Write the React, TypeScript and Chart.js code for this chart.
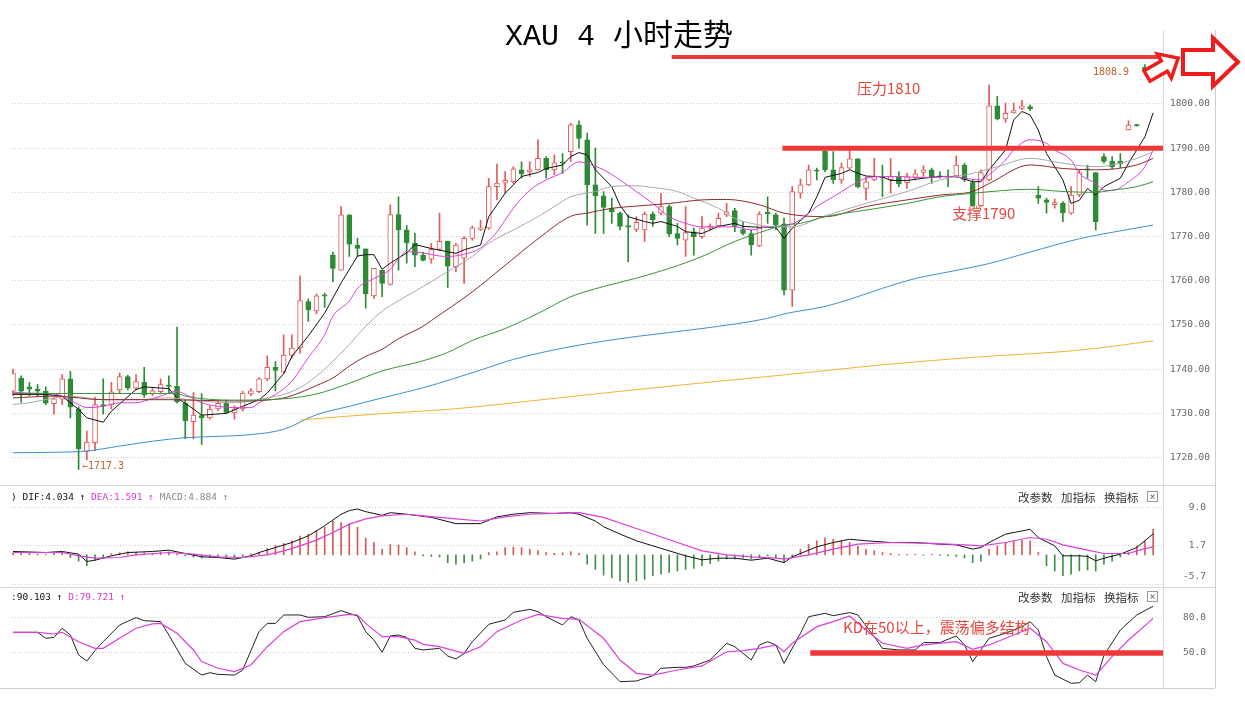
import React, { useEffect, useRef } from "react";
import { Chart, registerables } from "chart.js";
Chart.register(...registerables);

// ---------- candles (4h XAU) ----------
const opens = [1735.0, 1738.0, 1736.0, 1735.5, 1735.0, 1732.2, 1733.2, 1737.8, 1731.0, 1721.4,
  1723.4, 1732.0, 1731.9, 1735.3, 1738.3, 1735.7, 1737.0, 1734.4, 1734.9, 1736.4,
  1736.1, 1732.3, 1728.1, 1729.5, 1729.0, 1731.0, 1732.3, 1730.1, 1731.0, 1734.4,
  1734.9, 1737.8, 1740.4, 1739.3, 1743.1, 1744.8, 1755.3, 1753.2, 1756.8, 1765.8,
  1762.4, 1774.9, 1768.1, 1767.2, 1756.6, 1762.4, 1759.2, 1775.0, 1771.5, 1768.5,
  1765.8, 1764.9, 1767.1, 1769.0, 1763.2, 1765.1, 1769.6, 1771.6, 1771.9, 1781.3,
  1782.1, 1782.4, 1785.1, 1784.6, 1785.1, 1787.7, 1785.1, 1786.8, 1789.2, 1795.3,
  1791.9, 1781.7, 1779.2, 1776.4, 1775.3, 1772.5, 1771.6, 1771.5, 1775.1, 1775.3,
  1776.8, 1770.7, 1769.2, 1771.1, 1770.0, 1771.9, 1772.4, 1774.9, 1775.9, 1771.6,
  1770.7, 1767.9, 1775.5, 1774.9, 1772.9, 1757.9, 1779.8, 1781.7, 1785.0, 1789.4,
  1785.1, 1782.8, 1785.5, 1787.6, 1780.9, 1782.8, 1783.6, 1782.9, 1783.5, 1782.2,
  1783.4, 1784.5, 1785.1, 1783.6, 1783.6, 1783.7, 1786.2, 1782.2, 1777.0, 1782.8,
  1799.6, 1796.6, 1798.0, 1799.0, 1799.4, 1779.4, 1778.3, 1777.2, 1777.5, 1775.3,
  1779.4, 1785.3, 1784.5, 1788.1, 1787.0, 1787.0, 1794.1, 1795.2, 1808.3, 1808.0];
const highs = [1740.0, 1738.5, 1737.0, 1736.5, 1736.0, 1733.6, 1738.8, 1739.5, 1731.5, 1726.0,
  1733.7, 1737.8, 1737.0, 1739.1, 1738.6, 1738.8, 1740.4, 1735.6, 1737.8, 1738.5,
  1749.5, 1733.0, 1734.7, 1734.5, 1731.7, 1732.8, 1733.0, 1731.7, 1735.0, 1735.6,
  1738.1, 1743.0, 1741.7, 1747.8, 1747.8, 1761.1, 1755.9, 1757.0, 1757.2, 1766.5,
  1776.8, 1774.9, 1769.6, 1767.2, 1762.8, 1762.4, 1777.2, 1779.0, 1772.5, 1770.8,
  1766.5, 1768.5, 1775.3, 1769.0, 1768.5, 1770.0, 1772.4, 1773.7, 1783.2, 1786.4,
  1784.7, 1785.8, 1786.9, 1786.9, 1791.9, 1788.1, 1788.5, 1788.8, 1795.6, 1796.2,
  1793.4, 1790.0, 1780.2, 1778.7, 1775.6, 1774.9, 1774.5, 1775.6, 1775.6, 1779.8,
  1777.2, 1773.0, 1776.8, 1771.9, 1774.5, 1772.9, 1775.3, 1777.5, 1776.4, 1773.4,
  1771.5, 1775.6, 1779.0, 1775.3, 1774.2, 1781.3, 1783.0, 1786.2, 1785.5, 1789.4,
  1789.2, 1786.6, 1789.8, 1787.7, 1783.5, 1787.7, 1786.2, 1787.7, 1784.7, 1784.3,
  1785.1, 1786.0, 1785.5, 1784.7, 1785.1, 1788.2, 1786.6, 1782.8, 1785.1, 1804.3,
  1801.7, 1800.2, 1800.2, 1800.8, 1799.8, 1781.3, 1778.7, 1778.5, 1777.9, 1781.3,
  1785.0, 1786.2, 1784.5, 1788.8, 1788.1, 1788.8, 1796.2, 1795.4, 1808.9, 1808.6];
const lows = [1734.0, 1732.5, 1734.0, 1734.0, 1732.0, 1729.8, 1732.0, 1729.0, 1717.3, 1719.5,
  1721.5, 1729.8, 1731.0, 1734.7, 1735.3, 1735.3, 1733.6, 1734.0, 1734.4, 1734.7,
  1732.3, 1724.3, 1724.2, 1723.0, 1728.7, 1730.6, 1730.0, 1728.7, 1730.5, 1734.0,
  1734.7, 1737.4, 1735.1, 1739.1, 1742.5, 1743.6, 1750.8, 1752.5, 1754.0, 1759.8,
  1762.4, 1765.5, 1765.5, 1753.8, 1756.0, 1756.4, 1759.0, 1762.4, 1764.0, 1763.2,
  1764.5, 1764.0, 1766.8, 1758.5, 1762.0, 1759.4, 1769.2, 1771.4, 1771.6, 1778.3,
  1779.8, 1782.0, 1783.2, 1783.6, 1785.0, 1783.2, 1784.0, 1784.3, 1787.0, 1790.0,
  1772.6, 1770.7, 1770.7, 1773.0, 1771.5, 1764.3, 1771.1, 1768.9, 1772.3, 1774.9,
  1770.0, 1768.1, 1765.5, 1765.8, 1769.6, 1771.5, 1772.2, 1774.5, 1771.1, 1770.4,
  1765.8, 1767.7, 1773.0, 1771.5, 1756.8, 1754.2, 1778.7, 1781.5, 1782.8, 1784.7,
  1782.0, 1782.0, 1785.3, 1781.0, 1778.3, 1782.6, 1779.0, 1779.8, 1781.3, 1780.9,
  1782.8, 1783.6, 1782.0, 1783.2, 1781.3, 1783.5, 1782.4, 1776.8, 1776.8, 1782.6,
  1796.4, 1795.8, 1797.9, 1798.7, 1798.5, 1777.5, 1775.3, 1776.4, 1773.4, 1775.0,
  1779.0, 1783.2, 1771.5, 1786.6, 1785.3, 1785.6, 1794.1, 1795.0, 1806.8, 1806.0];
const closes = [1739.0, 1735.0, 1735.5, 1735.0, 1732.3, 1733.3, 1737.8, 1731.4, 1722.0, 1723.5,
  1732.0, 1731.7, 1734.9, 1738.3, 1735.7, 1737.2, 1734.2, 1735.1, 1736.5, 1736.1,
  1732.6, 1728.3, 1729.6, 1729.0, 1731.0, 1732.3, 1730.2, 1731.0, 1734.6, 1735.1,
  1737.8, 1740.4, 1739.7, 1743.2, 1744.8, 1755.5, 1753.4, 1756.6, 1756.5, 1762.8,
  1774.9, 1768.3, 1767.3, 1757.0, 1762.8, 1759.4, 1775.0, 1771.5, 1768.6, 1765.8,
  1764.6, 1767.1, 1768.9, 1763.3, 1768.1, 1769.6, 1772.0, 1772.0, 1781.3, 1782.1,
  1782.7, 1785.3, 1784.2, 1785.1, 1787.7, 1785.1, 1786.7, 1786.6, 1795.3, 1792.2,
  1781.7, 1779.2, 1776.6, 1775.6, 1772.3, 1772.1, 1773.2, 1775.1, 1773.8, 1776.8,
  1770.6, 1769.6, 1770.9, 1770.0, 1771.9, 1772.4, 1774.1, 1775.6, 1772.3, 1770.7,
  1768.1, 1775.1, 1775.1, 1772.6, 1757.9, 1780.2, 1781.7, 1785.1, 1784.8, 1785.1,
  1782.8, 1785.6, 1787.6, 1781.3, 1782.4, 1783.7, 1783.4, 1783.6, 1781.9, 1783.5,
  1784.2, 1785.1, 1783.4, 1783.5, 1783.4, 1786.2, 1782.8, 1777.0, 1784.5, 1799.6,
  1796.6, 1797.9, 1798.5, 1799.6, 1798.9, 1778.7, 1777.7, 1777.7, 1775.4, 1779.4,
  1784.5, 1785.1, 1773.4, 1787.0, 1785.8, 1786.5, 1795.2, 1795.1, 1807.6, 1807.5];

// ---------- moving averages as [candle index, price] ----------
const ma5 = [[0,1734.3],[4,1734.3],[6,1733.9],[8,1730.9],[9,1729.0],[11,1728.0],[12,1730.5],[15,1735.4],[16,1736.0],[19,1735.6],[20,1733.5],[22,1731.0],[23,1729.6],[26,1730.0],[28,1731.6],[30,1733.1],[31,1734.6],[33,1739.0],[34,1742.9],[36,1747.5],[38,1752.7],[40,1759.5],[42,1765.6],[43,1765.9],[44,1765.9],[45,1762.6],[46,1764.0],[48,1766.3],[49,1768.2],[51,1767.3],[54,1766.2],[55,1767.0],[57,1768.1],[58,1774.5],[60,1779.8],[62,1783.6],[64,1784.5],[65,1785.4],[67,1786.2],[68,1788.1],[69,1789.0],[70,1788.5],[71,1785.1],[73,1781.3],[74,1777.1],[75,1774.5],[77,1773.4],[78,1773.0],[79,1773.4],[81,1772.3],[82,1771.1],[84,1770.7],[86,1772.3],[88,1773.0],[89,1772.3],[91,1772.1],[93,1772.1],[94,1769.6],[95,1771.9],[97,1775.3],[98,1779.0],[99,1783.4],[101,1784.3],[102,1785.1],[103,1784.3],[104,1783.7],[106,1783.5],[107,1782.7],[109,1782.7],[111,1783.2],[113,1783.6],[115,1783.6],[117,1782.4],[118,1782.4],[119,1785.1],[121,1789.6],[122,1796.4],[123,1798.3],[124,1797.5],[125,1794.1],[126,1788.8],[128,1782.8],[129,1777.5],[130,1778.2],[131,1780.9],[132,1779.4],[133,1781.3],[135,1783.2],[136,1786.6],[138,1792.6],[139,1798.0]];
const ma10 = [[0,1734.8],[2,1734.6],[5,1734.4],[6,1733.9],[8,1732.0],[9,1731.3],[11,1731.6],[13,1732.4],[15,1732.4],[16,1732.8],[18,1733.9],[20,1735.0],[21,1734.3],[23,1732.4],[25,1731.6],[27,1731.3],[29,1731.3],[30,1732.4],[32,1734.3],[34,1737.3],[36,1742.6],[38,1747.8],[39,1752.0],[41,1755.4],[42,1758.3],[44,1760.5],[46,1762.6],[47,1765.0],[48,1766.6],[50,1766.3],[52,1765.6],[53,1765.5],[55,1766.0],[57,1767.4],[59,1771.1],[61,1776.4],[63,1780.5],[65,1782.8],[67,1784.5],[69,1786.9],[70,1786.5],[72,1785.1],[74,1782.8],[76,1780.2],[78,1777.5],[80,1774.5],[82,1773.0],[84,1772.2],[86,1772.2],[88,1772.2],[90,1771.5],[92,1772.2],[94,1772.4],[96,1773.8],[98,1776.8],[100,1779.0],[102,1781.3],[104,1783.2],[106,1783.6],[108,1783.6],[110,1783.4],[112,1783.4],[114,1783.6],[116,1783.2],[118,1782.8],[119,1784.0],[121,1787.3],[122,1789.6],[124,1791.9],[126,1791.1],[127,1789.6],[129,1787.3],[130,1784.3],[132,1782.0],[133,1780.5],[134,1780.4],[136,1782.4],[138,1785.8],[139,1789.6]];
const ma20 = [[0,1732.0],[2,1732.4],[5,1733.5],[7,1733.9],[11,1733.1],[15,1733.1],[19,1733.5],[23,1732.8],[27,1732.4],[31,1733.5],[33,1734.3],[35,1735.8],[37,1738.4],[39,1741.8],[41,1745.6],[43,1749.7],[45,1753.1],[47,1755.5],[50,1758.7],[53,1762.1],[56,1765.5],[58,1768.5],[61,1771.5],[64,1774.5],[66,1776.8],[68,1779.0],[71,1780.2],[73,1781.3],[76,1781.5],[78,1781.1],[81,1780.2],[83,1778.7],[86,1776.4],[88,1774.1],[90,1773.0],[93,1772.2],[95,1772.2],[99,1774.7],[104,1777.5],[109,1780.2],[113,1782.8],[117,1784.3],[120,1785.8],[124,1787.7],[128,1786.6],[132,1785.8],[134,1786.2],[137,1787.7],[139,1789.2]];
const ma30 = [[0,1733.5],[5,1733.9],[11,1733.1],[19,1733.1],[27,1732.8],[33,1733.5],[35,1734.7],[37,1736.3],[39,1738.0],[41,1740.7],[43,1742.9],[45,1744.5],[47,1746.9],[50,1749.7],[51,1751.0],[56,1757.5],[60,1763.5],[64,1769.5],[68,1774.6],[70,1775.3],[73,1776.4],[76,1776.9],[80,1777.5],[84,1778.3],[87,1778.4],[91,1777.2],[94,1775.3],[99,1774.5],[104,1776.8],[109,1778.3],[113,1779.4],[117,1780.2],[119,1782.0],[124,1786.2],[128,1785.4],[132,1785.1],[137,1786.2],[139,1787.7]];
const ma60 = [[0,1734.5],[11,1734.5],[20,1734.5],[21,1733.9],[27,1733.0],[33,1733.3],[37,1734.4],[41,1736.8],[45,1739.6],[50,1741.9],[53,1743.8],[56,1746.5],[60,1749.2],[64,1752.6],[68,1756.4],[72,1758.7],[76,1760.6],[80,1762.8],[84,1765.5],[88,1768.9],[92,1771.5],[94,1772.6],[96,1773.0],[99,1774.5],[104,1776.0],[109,1777.5],[113,1779.0],[117,1779.8],[124,1780.7],[128,1780.2],[132,1780.0],[134,1780.5],[137,1781.3],[139,1782.4]];
const ma120 = [[0,1721.1],[5,1721.2],[9,1721.5],[13,1722.6],[17,1723.7],[21,1724.5],[25,1724.8],[29,1725.2],[33,1726.4],[37,1729.7],[41,1731.6],[45,1733.5],[50,1735.8],[57,1739.8],[61,1742.2],[68,1745.1],[76,1747.4],[84,1749.2],[92,1751.5],[94,1752.5],[99,1754.2],[102,1755.8],[106,1758.3],[110,1760.5],[114,1762.0],[119,1763.9],[124,1766.5],[130,1769.5],[135,1771.3],[139,1772.6]];
const ma250 = [[35,1728.5],[41,1729.4],[47,1730.2],[53,1730.9],[65,1733.2],[72,1734.6],[84,1736.9],[94,1738.7],[106,1741.0],[118,1742.8],[130,1744.3],[139,1746.4]];

// ---------- MACD ----------
const difLine = [[0,0.64],[4,0.45],[6,0.64],[8,0.13],[9,-1.28],[10,-1.03],[12,-0.19],[14,0.45],[17,0.64],[19,0.9],[21,0.26],[23,-0.38],[25,-0.51],[27,-0.83],[29,-0.19],[30,0.45],[32,1.41],[34,2.37],[36,3.65],[37,4.6],[38,5.6],[40,7.8],[41,8.5],[42,8.8],[43,8.3],[45,7.6],[46,8.1],[48,7.8],[51,7.2],[54,6.0],[57,6.0],[59,7.3],[61,7.8],[63,8.1],[66,7.95],[68,8.1],[69,7.8],[71,6.5],[72,5.4],[74,4.0],[76,2.7],[78,1.73],[80,0.77],[82,-0.19],[84,-0.96],[86,-0.64],[88,-0.64],[90,-1.03],[92,-0.64],[94,-1.5],[95,-0.38],[98,1.54],[100,2.37],[102,3.0],[104,2.7],[107,2.37],[110,2.37],[113,2.05],[115,1.92],[117,1.1],[118,1.41],[119,2.37],[121,3.97],[124,4.9],[125,3.3],[127,1.73],[128,-0.19],[130,-0.19],[131,-0.3],[132,-1.15],[133,-0.64],[135,0.13],[137,1.41],[139,4.03]];
const deaLine = [[0,0.45],[6,0.45],[8,-0.19],[10,-0.64],[13,-0.51],[15,0],[19,0.45],[22,0.13],[25,-0.38],[28,-0.51],[31,0],[33,0.77],[35,1.73],[37,2.82],[39,4.3],[41,5.9],[43,6.9],[45,7.5],[48,7.8],[50,7.5],[54,6.9],[57,6.5],[60,7.3],[63,7.8],[67,8.0],[69,8.1],[72,7.2],[75,5.6],[78,4.0],[81,2.37],[84,0.77],[87,0],[90,-0.38],[93,-0.64],[94,-0.83],[97,0],[100,1.1],[103,2.05],[107,2.37],[112,2.2],[116,1.92],[118,1.73],[121,2.37],[124,3.33],[126,3.0],[128,1.92],[131,0.9],[133,0.26],[136,0.26],[137,0.77],[139,1.59]];
const macdHist = [0.3, 0.3, 0.3, 0.2, 0.1, 0.3, 0.4, -0.5, -1.2, -2.1,
  -1.0, -0.6, 0.2, 0.4, 0.6, 0.5, 0.4, 0.3, 0.5, 0.6,
  0.2, -0.2, -0.4, -0.6, -0.5, -0.4, -0.6, -0.6, -0.3, 0.2,
  0.5, 1.2, 1.8, 2.2, 2.7, 3.6, 4.0, 4.7, 5.3, 6.5,
  6.2, 5.9, 5.3, 3.2, 2.4, 1.1, 2.0, 1.9, 1.4, 0.6,
  -0.2, -0.3, -0.4, -1.5, -1.8, -1.5, -1.2, -0.8, 0.45, 0.6,
  1.4, 1.5, 1.4, 1.1, 0.8, 0.45, 0.3, 0.4, 0.6, 0.3,
  -1.8, -2.8, -3.9, -4.4, -5.0, -5.3, -5.0, -4.7, -4.0, -3.7,
  -3.4, -3.1, -2.8, -2.6, -2.1, -1.7, -1.2, -0.8, -0.8, -0.6,
  -0.8, -0.5, -0.2, -0.6, -1.5, -0.4, 1.1, 2.0, 2.7, 3.2,
  3.0, 2.7, 2.4, 1.7, 1.1, 0.8, 0.45, 0.26, 0.1, 0.1,
  0.1, -0.1, 0.1, -0.1, -0.2, -0.3, -0.6, -1.5, -1.2, 1.1,
  1.7, 2.4, 2.7, 2.8, 2.7, 0.45, -2.1, -3.1, -4.0, -3.7,
  -3.1, -2.9, -3.1, -1.8, -1.2, -0.4, 0.45, 1.7, 2.7, 4.88];

// ---------- KD ----------
const kLine = [[0,67.7],[3,67.7],[4,62.6],[5,63.4],[6,71.2],[7,65.4],[8,48.3],[9,43.1],[10,52],[11,59.7],[13,74],[15,80.3],[16,77.7],[18,76.9],[19,65.4],[21,41.1],[23,31.1],[24,33.1],[25,31.7],[27,31.1],[28,35.4],[30,68.3],[31,75.4],[32,75.4],[33,82.6],[35,82.6],[36,80.6],[38,81.1],[40,86.3],[42,81.7],[43,68.3],[44,61.1],[45,50.6],[46,64.6],[47,65.4],[48,63.4],[49,54],[50,52.6],[52,54],[53,47.4],[54,44.9],[55,49.7],[56,59.7],[58,74.6],[60,78.3],[61,84.9],[63,87.4],[64,85.4],[65,81.1],[67,74],[68,81.1],[69,78.3],[70,62.6],[72,40],[74,25.4],[76,26],[78,30.6],[79,36.9],[81,37.7],[82,37.7],[83,38.9],[85,44],[87,58.3],[88,55.4],[90,44],[91,56.9],[92,59.7],[93,56.9],[94,41.1],[96,66.9],[97,81.1],[99,84],[100,82],[102,84.6],[103,82.6],[105,64],[106,54],[108,52.6],[110,52.6],[111,58.9],[113,58.9],[115,64.6],[116,56.9],[117,42.6],[119,62.6],[121,66.9],[123,72.6],[124,76.9],[125,69.7],[126,46.9],[127,31.1],[129,24],[130,24.5],[131,31.1],[132,25.4],[133,48],[135,69.7],[137,82.6],[139,90.1]];
const dLine = [[0,67.7],[3,67.7],[5,66.3],[6,67.7],[8,59.7],[10,54],[11,54],[13,62.6],[15,71.2],[17,74.9],[18,75.4],[20,66.9],[22,52.6],[23,42.6],[25,36.9],[27,34],[29,39.7],[31,55.4],[33,68.3],[35,76.9],[38,80.3],[41,83.1],[42,82.6],[43,75.4],[45,64],[47,64],[49,61.1],[50,57.4],[52,55.4],[55,49.7],[57,55.4],[59,68.3],[62,78.3],[64,83.1],[67,79.7],[69,78.9],[72,62.6],[74,44],[76,32.6],[78,31.1],[81,35.4],[84,38.9],[87,51.1],[89,52],[91,54],[93,56.9],[94,51.1],[95,58.3],[98,72.6],[100,76.9],[102,81.7],[104,69.7],[106,58.3],[109,54],[111,56.9],[115,59.7],[117,53.1],[119,56.9],[122,65.4],[124,71.2],[126,59.7],[128,41.1],[130,35.4],[132,31.1],[134,46.9],[136,61.1],[139,79.7]];

// ---------- axis ticks / levels ----------
const priceTicks = [1720, 1730, 1740, 1750, 1760, 1770, 1780, 1790, 1800];
const macdTicks = [-5.7, 1.7, 9.0];
const kdTicks = [50, 80];
const resistanceLevel = 1810.6;
const supportLevel = 1790;
const kdLevel = 50;

// ---------- styling ----------
const W = 1245;
const X_MIN = -0.12;
const X_MAX = 140.2;
const UP = "#e05a5a";
const DOWN = "#2e8b35";
const LEVEL_RED = "#f03838";
const MONO = '"DejaVu Sans Mono", "Liberation Mono", monospace';
const CJK = '"Noto Sans CJK SC", "Noto Sans", sans-serif';

const toPts = (arr: number[][]) => arr.map(([x, y]) => ({ x, y }));
const idx = opens.map((_, i) => i);
const isUp = (i: number) => closes[i] > opens[i];

function lineDs(label: string, arr: number[][], color: string, width = 1, smooth = true) {
  return {
    type: "line", label, data: toPts(arr), borderColor: color, borderWidth: width,
    pointRadius: 0, fill: false, tension: 0,
    cubicInterpolationMode: smooth ? "monotone" : "default", order: 0,
  };
}

const xScale = { type: "linear", min: X_MIN, max: X_MAX, display: false, offset: false, grid: { offset: false } };

function yScale(min: number, max: number, ticks: number[]) {
  return {
    type: "linear", position: "right", min, max,
    afterFit: (s: any) => { s.width = 82; },
    afterBuildTicks: (s: any) => { s.ticks = ticks.map((v) => ({ value: v })); },
    ticks: { display: false },
    grid: { color: "#cdcdcd", drawTicks: false, lineWidth: 1 },
    border: { display: false, dash: [1, 2] },
  };
}

function labelPlugin(id: string, ticks: number[], fmt: (v: number) => string, align: "left" | "right", x: number) {
  return {
    id,
    afterDraw(chart: any) {
      const { ctx, chartArea, scales } = chart;
      ctx.save();
      ctx.font = `9.5px ${MONO}`;
      ctx.fillStyle = "#666";
      ctx.textAlign = align;
      ctx.textBaseline = "middle";
      for (const v of ticks) {
        let y = scales.y.getPixelForValue(v);
        y = Math.min(Math.max(y, chartArea.top + 6), chartArea.bottom - 10);
        ctx.fillText(fmt(v), x, y);
      }
      ctx.restore();
    },
  };
}

function levelPlugin(id: string, lines: { v: number; from: number; w: number; endPad: number }[]) {
  return {
    id,
    afterDatasetsDraw(chart: any) {
      const { ctx, chartArea, scales } = chart;
      ctx.save();
      ctx.strokeStyle = LEVEL_RED;
      for (const l of lines) {
        const y = scales.y.getPixelForValue(l.v);
        const x0 = scales.x.getPixelForValue(l.from);
        ctx.lineWidth = l.w;
        ctx.beginPath();
        ctx.moveTo(x0, y);
        ctx.lineTo(chartArea.right - l.endPad, y);
        ctx.stroke();
      }
      ctx.restore();
    },
  };
}

const baseOptions = (padTop: number, y: any) => ({
  responsive: false,
  animation: false,
  events: [],
  layout: { padding: { left: 12, right: 0, top: padTop, bottom: 0 } },
  plugins: { legend: { display: false }, tooltip: { enabled: false } },
  scales: { x: xScale, y },
});

function mainConfig(): any {
  return {
    type: "bar",
    data: {
      datasets: [
        lineDs("MA250", ma250, "#f2b134"),
        lineDs("MA120", ma120, "#3b8fd4"),
        lineDs("MA60", ma60, "#3a953a"),
        lineDs("MA30", ma30, "#8e2b2b"),
        lineDs("MA20", ma20, "#a9a9a9"),
        lineDs("MA10", ma10, "#dc3fdc"),
        lineDs("MA5", ma5, "#111111", 1, false),
        {
          type: "bar", label: "wick", order: 3, grouped: false, barThickness: 1,
          data: idx.map((i) => ({ x: i, y: [lows[i], highs[i]] })),
          backgroundColor: idx.map((i) => (isUp(i) ? UP : DOWN)),
        },
        {
          type: "bar", label: "body", order: 2, grouped: false, barThickness: 5, minBarLength: 1,
          borderSkipped: false, borderWidth: 1,
          data: idx.map((i) => ({ x: i, y: [opens[i], closes[i]] })),
          backgroundColor: idx.map((i) => (isUp(i) ? "#ffffff" : DOWN)),
          borderColor: idx.map((i) => (isUp(i) ? UP : DOWN)),
        },
      ],
    },
    options: baseOptions(46.5, yScale(1713.8, 1813.0, priceTicks)),
    plugins: [
      labelPlugin("priceLabels", priceTicks, (v) => v.toFixed(2), "left", 1170),
      levelPlugin("priceLevels", [
        { v: resistanceLevel, from: 80.3, w: 4, endPad: 3 },
        { v: supportLevel, from: 93.8, w: 5, endPad: 0 },
      ]),
    ],
  };
}

function macdConfig(): any {
  return {
    type: "bar",
    data: {
      datasets: [
        lineDs("DEA", deaLine, "#dc3fdc", 1.2, false),
        lineDs("DIF", difLine, "#111111", 1, false),
        {
          type: "bar", label: "MACD", order: 2, grouped: false, barThickness: 1,
          data: idx.map((i) => ({ x: i, y: macdHist[i] })),
          backgroundColor: macdHist.map((v) => (v >= 0 ? "#d45a5a" : "#3f8f45")),
        },
      ],
    },
    options: baseOptions(0, yScale(-6.177, 13.418, macdTicks)),
    plugins: [labelPlugin("macdLabels", macdTicks, (v) => v.toFixed(1), "right", 1206)],
  };
}

function kdConfig(): any {
  return {
    type: "line",
    data: {
      datasets: [
        lineDs("D", dLine, "#dc3fdc", 1.2, false),
        lineDs("K", kLine, "#222222", 1, false),
      ],
    },
    options: baseOptions(0, yScale(20.0, 106.57, kdTicks)),
    plugins: [
      labelPlugin("kdLabels", kdTicks, (v) => v.toFixed(1), "right", 1206),
      levelPlugin("kdLevel", [{ v: kdLevel, from: 97.2, w: 5.5, endPad: 0 }]),
    ],
  };
}

function Panel({ top, height, config }: { top: number; height: number; config: () => any }) {
  const ref = useRef<HTMLCanvasElement | null>(null);
  useEffect(() => {
    const chart = new Chart(ref.current as HTMLCanvasElement, config());
    return () => chart.destroy();
  }, []);
  return (
    <canvas ref={ref} width={W} height={height}
      style={{ position: "absolute", left: 0, top, width: W, height, display: "block" }} />
  );
}

const abs = (left: number, top: number, extra: any = {}) => ({
  position: "absolute" as const, left, top, whiteSpace: "nowrap" as const, ...extra,
});

function Tools({ top }: { top: number }) {
  const st = { fontFamily: CJK, fontSize: 11.5, lineHeight: "14px", color: "#333" };
  return (
    <>
      <div style={abs(1018, top, st)}>改参数</div>
      <div style={abs(1061, top, st)}>加指标</div>
      <div style={abs(1104, top, st)}>换指标</div>
      <div style={abs(1147, top + 1, {
        width: 11, height: 11, border: "1px solid #999", boxSizing: "border-box",
        fontFamily: MONO, fontSize: 10, lineHeight: "9px", textAlign: "center", color: "#666",
      })}>×</div>
    </>
  );
}

export default function App() {
  const hl = (top: number, left = 0, width = 1215, color = "#d9d9d9") => (
    <div style={{ position: "absolute", left, top, width, height: 1, background: color }} />
  );
  const vl = (left: number, top: number, height: number, color = "#d9d9d9") => (
    <div style={{ position: "absolute", left, top, width: 1, height, background: color }} />
  );
  const legendFont = { fontFamily: MONO, fontSize: 9.5, lineHeight: "12px" };
  const noteStyle = { fontFamily: CJK, fontSize: 15, lineHeight: "18px", color: "#e8463c" };
  return (
    <div style={{ position: "absolute", left: 0, top: 0, width: W, height: 704, background: "#fff", overflow: "hidden" }}>
      <Panel top={0} height={485} config={mainConfig} />
      <Panel top={485} height={102} config={macdConfig} />
      <Panel top={587} height={101} config={kdConfig} />

      {hl(485)}
      {hl(587)}
      {hl(688, 0, 1215, "#cfcfcf")}
      {vl(1163, 30, 658)}
      {vl(1215, 30, 658, "#cfcfcf")}

      <div style={abs(505, 18, { fontFamily: '"Liberation Mono", "Noto Sans CJK SC", monospace', fontSize: 30, lineHeight: "38px", color: "#000" })}>
        XAU 4 小时走势
      </div>

      <div style={abs(857, 79, noteStyle)}>压力1810</div>
      <div style={abs(952, 204, noteStyle)}>支撑1790</div>
      <div style={abs(843, 618, noteStyle)}>KD在50以上，震荡偏多结构</div>

      <div style={abs(82, 459, { fontFamily: MONO, fontSize: 10, lineHeight: "13px", color: "#c0622a" })}>←1717.3</div>
      <div style={abs(1093, 65, { fontFamily: MONO, fontSize: 10, lineHeight: "13px", color: "#c0622a" })}>1808.9</div>

      <div style={abs(11, 491, legendFont)}>
        <span style={{ color: "#111" }}>) DIF:4.034 ↑ </span>
        <span style={{ color: "#d63ad6" }}>DEA:1.591 ↑ </span>
        <span style={{ color: "#888" }}>MACD:4.884 ↑</span>
      </div>
      <div style={abs(11, 591, legendFont)}>
        <span style={{ color: "#111" }}>:90.103 ↑ </span>
        <span style={{ color: "#d63ad6" }}>D:79.721 ↑</span>
      </div>
      <Tools top={490} />
      <Tools top={590} />

      <svg width={W} height={704} style={{ position: "absolute", left: 0, top: 0, pointerEvents: "none" }}>
        <g transform="translate(1147,76) rotate(-30)">
          <polygon points="0,-6 20,-6 20,-14 36,0 20,14 20,6 0,6" fill="#fff" stroke="#f01c1c" strokeWidth={3.5} strokeLinejoin="miter" />
        </g>
        <polygon points="1183,50 1213,50 1213,38 1238,62 1213,86 1213,74 1183,74" fill="#fff" stroke="#f01c1c" strokeWidth={4} strokeLinejoin="miter" />
      </svg>
    </div>
  );
}
